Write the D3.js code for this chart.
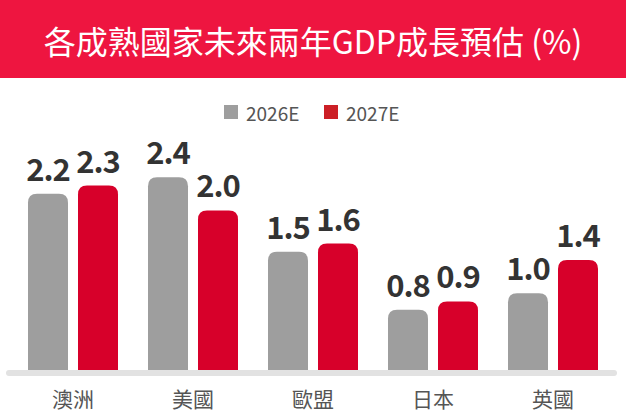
<!DOCTYPE html>
<html>
<head>
<meta charset="utf-8">
<script src="https://cdn.jsdelivr.net/npm/d3@7"></script>
<style>
  html, body { margin: 0; padding: 0; background: #fff; }
  svg { display: block; }
</style>
</head>
<body>
<svg id="chart" width="626" height="416"></svg>
<script>
const title = "各成熟國家未來兩年GDP成長預估 (%)";
const categories = ["澳洲", "美國", "歐盟", "日本", "英國"];
const seriesNames = ["2026E", "2027E"];
const values2026 = [2.2, 2.4, 1.5, 0.8, 1.0];
const values2027 = [2.3, 2.0, 1.6, 0.9, 1.4];
const valueLabels2026 = ["2.2", "2.4", "1.5", "0.8", "1.0"];
const valueLabels2027 = ["2.3", "2.0", "1.6", "0.9", "1.4"];

const barColors = ["#9E9E9E", "#D7002A"];
const legendColors = ["#9E9E9E", "#CC1F26"];
const FONT = "'Noto Sans CJK TC', 'Noto Sans', sans-serif";

const svg = d3.select("#chart");
const W = 626, H = 416;

// Title banner
svg.append("rect").attr("x", 0).attr("y", 0).attr("width", W).attr("height", 78).attr("fill", "#EE1540");
svg.append("text")
  .attr("x", W / 2).attr("y", 40)
  .attr("text-anchor", "middle").attr("dominant-baseline", "central")
  .attr("fill", "#fff").attr("font-family", FONT).attr("font-size", 32)
  .text(title);

// Legend
const legend = svg.append("g");
const legendX = [224, 324];
seriesNames.forEach((s, i) => {
  legend.append("rect").attr("x", legendX[i]).attr("y", 105).attr("width", 14).attr("height", 14).attr("fill", legendColors[i]);
  legend.append("text").attr("x", legendX[i] + 22).attr("y", 112)
    .attr("dominant-baseline", "central")
    .attr("font-family", FONT).attr("font-size", 19).attr("fill", "#555")
    .text(s);
});

// Scales
const x = d3.scaleBand().domain(categories).range([13, 613]).padding(0);
const xi = d3.scaleBand().domain(seriesNames).range([15, 105]).paddingInner(0.2).paddingOuter(0);
const y = d3.scaleLinear().domain([0, 2.4]).range([376, 177.3]);

const data = [];
categories.forEach((c, i) => {
  data.push({ cat: c, s: seriesNames[0], v: values2026[i], label: valueLabels2026[i], color: barColors[0] });
  data.push({ cat: c, s: seriesNames[1], v: values2027[i], label: valueLabels2027[i], color: barColors[1] });
});

function topRounded(x0, y0, w, h, r) {
  const y1 = y0 + h;
  return `M${x0},${y1} L${x0},${y0 + r} Q${x0},${y0} ${x0 + r},${y0} L${x0 + w - r},${y0} Q${x0 + w},${y0} ${x0 + w},${y0 + r} L${x0 + w},${y1} Z`;
}

const bars = svg.append("g");
bars.selectAll("path").data(data).join("path")
  .attr("d", d => {
    const bx = x(d.cat) + xi(d.s);
    const by = y(d.v);
    return topRounded(bx, by, xi.bandwidth(), y(0) - by, 9);
  })
  .attr("fill", d => d.color);

svg.append("g").selectAll("text").data(data).join("text")
  .attr("x", d => x(d.cat) + xi(d.s) + xi.bandwidth() / 2)
  .attr("y", d => y(d.v) - 13)
  .attr("text-anchor", "middle")
  .attr("font-family", FONT).attr("font-weight", "bold").attr("font-size", 31)
  .attr("letter-spacing", -1)
  .attr("fill", "#333")
  .text(d => d.label);

// Axis baseline
svg.append("line")
  .attr("x1", 9).attr("x2", 614).attr("y1", 373).attr("y2", 373)
  .attr("stroke", "#E2E2E2").attr("stroke-width", 6).attr("stroke-linecap", "round");

// Category axis labels
const xAxis = d3.axisBottom(x).tickSize(0).tickPadding(0);
const gx = svg.append("g").attr("transform", "translate(0,386)").call(xAxis);
gx.select(".domain").remove();
gx.selectAll("text")
  .attr("font-family", FONT).attr("font-size", 21).attr("fill", "#555")
  .attr("dy", null).attr("y", 12).attr("dominant-baseline", "central");
</script>
</body>
</html>
